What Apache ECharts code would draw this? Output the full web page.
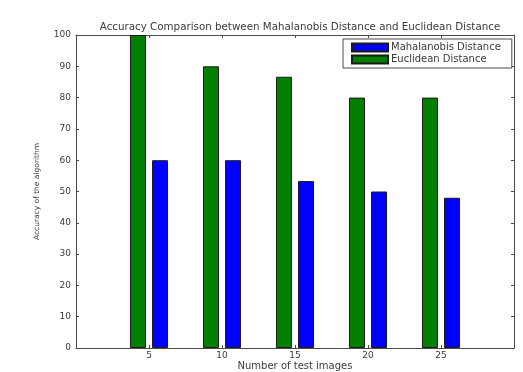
<!DOCTYPE html>
<html>
<head>
<meta charset="utf-8">
<script src="https://cdn.jsdelivr.net/npm/echarts@6/dist/echarts.min.js"></script>
<style>
  html, body { margin: 0; padding: 0; background: #fff; }
  #chart { width: 523px; height: 372px; }
</style>
</head>
<body>
<div id="chart"></div>
<script>
// Number of test images on the x axis
const testImages = [5, 10, 15, 20, 25];
// Accuracy (%) for each distance measure
const euclidean = [100, 90, 86.67, 80, 80];
const mahalanobis = [60, 60, 53.33, 50, 48];
const yTicks = [0, 10, 20, 30, 40, 50, 60, 70, 80, 90, 100];

const lineColor = '#4a4a4a';
const textColor = '#3a3a3a';
const font = 'DejaVu Sans, Verdana, sans-serif';

const chart = echarts.init(document.getElementById('chart'));

// Boxed frame with inward ticks on every side
function frameAxis(extra) {
  return Object.assign({
    axisLine: { show: true, onZero: false, lineStyle: { color: lineColor, width: 1 } },
    axisTick: { show: true, inside: true, length: 3, lineStyle: { color: lineColor } },
    splitLine: { show: false }
  }, extra);
}

chart.setOption({
  animation: false,
  title: {
    text: 'Accuracy Comparison between Mahalanobis Distance and Euclidean Distance',
    left: 295,
    textAlign: 'center',
    top: 17,
    textStyle: { fontFamily: font, fontSize: 10.3, fontWeight: 'normal', color: textColor }
  },
  legend: {
    data: ['Mahalanobis Distance', 'Euclidean Distance'],
    orient: 'vertical',
    left: 343,
    top: 39,
    width: 169,
    padding: [3, 11, 3, 8],
    itemGap: 1,
    itemWidth: 36,
    itemHeight: 8,
    icon: 'rect',
    backgroundColor: '#fff',
    borderColor: lineColor,
    borderWidth: 1,
    textStyle: { fontFamily: font, fontSize: 10, lineHeight: 11, color: textColor, padding: [0, 0, 0, -2] }
  },
  grid: { left: 76, right: 9, top: 35, bottom: 24, containLabel: false, outerBoundsMode: 'none' },
  xAxis: [
    frameAxis({
      type: 'value',
      min: 0,
      max: 30,
      interval: 5,
      name: 'Number of test images',
      nameLocation: 'middle',
      nameGap: 13,
      nameMoveOverlap: false,
      nameTextStyle: { fontFamily: font, fontSize: 10, color: textColor },
      axisLabel: {
        fontFamily: font, fontSize: 9, color: textColor, margin: 3,
        formatter: v => (testImages.indexOf(v) >= 0 ? String(v) : '')
      }
    }),
    frameAxis({
      type: 'value', position: 'top', min: 0, max: 30, interval: 5,
      axisLabel: { show: false }
    })
  ],
  yAxis: [
    frameAxis({
      type: 'value',
      min: yTicks[0],
      max: yTicks[yTicks.length - 1],
      interval: 10,
      name: 'Accuracy of the algorithm',
      nameLocation: 'middle',
      nameGap: 35,
      nameMoveOverlap: false,
      nameTextStyle: { fontFamily: font, fontSize: 7.5, color: textColor },
      axisLabel: { fontFamily: font, fontSize: 9, color: textColor, margin: 5 }
    }),
    frameAxis({
      type: 'value', position: 'right', min: 0, max: 100, interval: 10,
      axisLabel: { show: false }
    })
  ],
  series: [
    {
      name: 'Euclidean Distance',
      type: 'bar',
      barWidth: 16,
      barGap: '38%',
      itemStyle: { color: '#007f00', borderColor: '#1a1a1a', borderWidth: 1 },
      data: testImages.map((x, i) => [x, euclidean[i]])
    },
    {
      name: 'Mahalanobis Distance',
      type: 'bar',
      barWidth: 16,
      barGap: '38%',
      itemStyle: { color: '#0000ff', borderColor: '#1a1a1a', borderWidth: 1 },
      data: testImages.map((x, i) => [x, mahalanobis[i]])
    }
  ]
});
</script>
</body>
</html>
